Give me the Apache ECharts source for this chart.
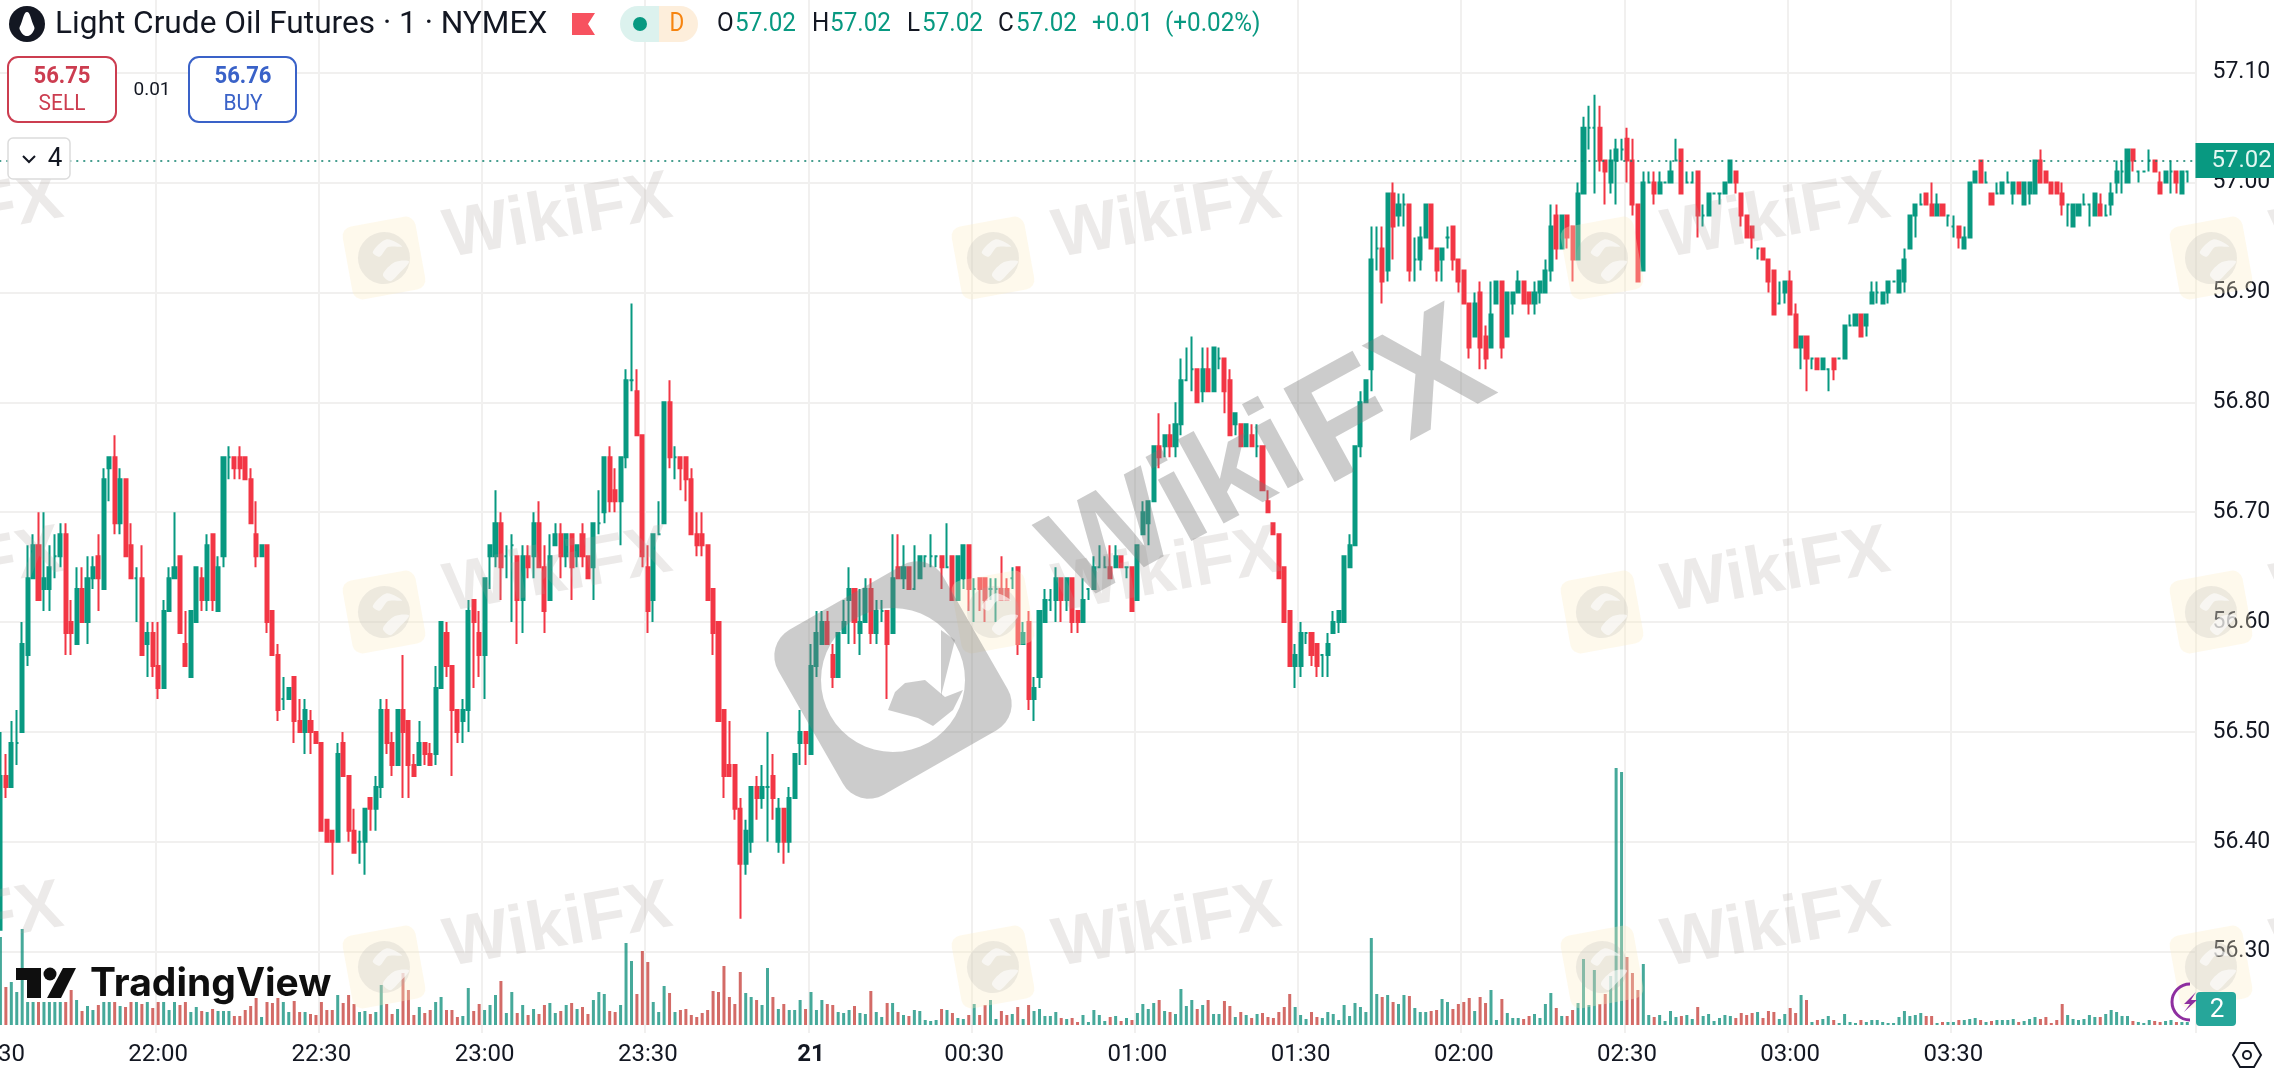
<!DOCTYPE html>
<html><head><meta charset="utf-8">
<style>html,body{margin:0;padding:0;background:#fff}#c{width:2274px;height:1080px}</style>
<script src="https://cdn.jsdelivr.net/npm/echarts@6/dist/echarts.min.js"></script>
</head><body><div id="c"></div>
<script>
const opens=[
56.30,56.32,56.46,56.45,56.49,56.50,56.57,56.64,56.67,56.63,
56.63,56.66,56.66,56.68,56.60,56.58,56.63,56.60,56.64,56.66,
56.63,56.74,56.75,56.69,56.73,56.67,56.64,56.64,56.58,56.59,
56.56,56.54,56.61,56.64,56.66,56.58,56.55,56.60,56.64,56.62,
56.68,56.61,56.66,56.75,56.75,56.75,56.75,56.73,56.68,56.66,
56.67,56.61,56.57,56.53,56.53,56.55,56.51,56.50,56.51,56.50,
56.49,56.42,56.41,56.40,56.49,56.46,56.41,56.40,56.40,56.44,
56.43,56.45,56.52,56.49,56.47,56.52,56.51,56.47,56.47,56.49,
56.48,56.48,56.54,56.59,56.56,56.52,56.51,56.52,56.62,56.59,
56.57,56.66,56.66,56.69,56.66,56.67,56.66,56.62,56.66,56.66,
56.69,56.65,56.62,56.67,56.68,56.66,56.68,56.66,56.68,56.66,
56.65,56.69,56.70,56.75,56.72,56.71,56.75,56.82,56.81,56.77,
56.65,56.62,56.68,56.69,56.80,56.75,56.75,56.75,56.73,56.68,
56.68,56.67,56.63,56.60,56.52,56.47,56.47,56.43,56.38,56.40,
56.45,56.44,56.45,56.46,56.40,56.43,56.40,56.44,56.49,56.50,
56.48,56.56,56.58,56.60,56.57,56.55,56.59,56.62,56.63,56.59,
56.60,56.63,56.59,56.61,56.61,56.59,56.65,56.64,56.65,56.63,
56.64,56.66,56.66,56.66,56.66,56.65,56.66,56.62,56.64,56.67,
56.63,56.64,56.64,56.63,56.63,56.63,56.63,56.64,56.65,56.58,
56.60,56.53,56.55,56.60,56.62,56.62,56.64,56.62,56.64,56.61,
56.60,56.63,56.63,56.65,56.65,56.65,56.65,56.66,56.65,56.65,
56.62,56.68,56.69,56.71,56.76,56.76,56.77,56.76,56.78,56.82,
56.83,56.83,56.81,56.83,56.81,56.84,56.84,56.82,56.78,56.78,
56.76,56.77,56.76,56.76,56.71,56.69,56.68,56.65,56.61,56.56,
56.56,56.59,56.59,56.58,56.57,56.57,56.59,56.60,56.60,56.65,
56.67,56.76,56.80,56.83,56.94,56.94,56.92,56.99,56.97,56.98,
56.98,56.93,56.93,56.95,56.98,56.94,56.93,56.95,56.96,56.93,
56.92,56.89,56.86,56.90,56.86,56.85,56.89,56.91,56.86,56.89,
56.90,56.91,56.90,56.89,56.90,56.90,56.92,56.97,56.94,56.97,
56.96,56.93,56.99,57.05,57.05,57.05,57.02,57.00,57.02,57.03,
57.04,57.02,56.98,56.92,57.00,57.00,56.99,57.00,57.00,57.02,
57.03,57.00,57.00,57.01,56.97,56.97,56.99,56.99,56.99,57.00,
57.01,56.99,56.97,56.96,56.94,56.94,56.93,56.92,56.89,56.90,
56.91,56.88,56.85,56.86,56.84,56.84,56.83,56.83,56.84,56.84,
56.84,56.87,56.87,56.88,56.87,56.89,56.90,56.89,56.90,56.91,
56.90,56.91,56.94,56.97,56.98,56.99,56.98,56.97,56.98,56.97,
56.96,56.96,56.94,56.95,57.00,57.02,57.00,56.99,56.99,56.99,
57.00,56.99,57.00,56.98,56.99,56.99,57.02,57.01,57.00,57.00,
56.99,56.98,56.96,56.97,56.98,56.98,56.97,56.98,56.97,56.98,
57.00,57.01,57.00,57.03,57.01,57.01,57.02,57.02,57.00,57.00,
57.01,57.01,56.99,57.01];
const closes=[
56.32,56.46,56.45,56.49,56.49,56.58,56.64,56.67,56.62,56.64,
56.65,56.66,56.68,56.59,56.59,56.63,56.60,56.64,56.65,56.64,
56.73,56.75,56.69,56.73,56.66,56.64,56.64,56.57,56.59,56.56,
56.54,56.61,56.64,56.65,56.59,56.56,56.61,56.65,56.62,56.67,
56.62,56.65,56.75,56.75,56.74,56.74,56.73,56.69,56.66,56.67,
56.60,56.57,56.52,56.53,56.54,56.51,56.50,56.52,56.50,56.49,
56.41,56.40,56.40,56.48,56.46,56.41,56.39,56.40,56.43,56.43,
56.45,56.52,56.49,56.47,56.52,56.50,56.47,56.46,56.49,56.48,
56.47,56.54,56.60,56.56,56.52,56.50,56.52,56.61,56.60,56.57,
56.64,56.67,56.69,56.65,56.66,56.67,56.62,56.66,56.65,56.69,
56.65,56.61,56.66,56.68,56.66,56.68,56.65,56.67,56.66,56.64,
56.69,56.69,56.75,56.71,56.71,56.75,56.82,56.82,56.77,56.66,
56.61,56.68,56.68,56.80,56.75,56.75,56.74,56.73,56.68,56.67,
56.67,56.62,56.59,56.51,56.46,56.46,56.43,56.38,56.41,56.45,
56.44,56.45,56.45,56.44,56.43,56.40,56.44,56.48,56.50,56.49,
56.56,56.59,56.60,56.58,56.55,56.59,56.60,56.63,56.60,56.60,
56.63,56.59,56.61,56.61,56.58,56.64,56.64,56.65,56.63,56.63,
56.66,56.66,56.66,56.66,56.65,56.65,56.62,56.66,56.67,56.63,
56.63,56.63,56.62,56.63,56.63,56.62,56.62,56.64,56.58,56.59,
56.53,56.54,56.61,56.62,56.62,56.64,56.62,56.64,56.60,56.60,
56.62,56.63,56.65,56.65,56.65,56.64,56.66,56.65,56.65,56.61,
56.67,56.70,56.71,56.76,56.75,56.77,56.76,56.78,56.82,56.82,
56.83,56.80,56.83,56.81,56.85,56.84,56.81,56.77,56.79,56.76,
56.78,56.76,56.76,56.72,56.70,56.68,56.64,56.60,56.56,56.57,
56.59,56.59,56.57,56.56,56.57,56.58,56.60,56.61,56.66,56.67,
56.76,56.80,56.82,56.93,56.94,56.91,56.99,56.96,56.98,56.98,
56.92,56.93,56.95,56.98,56.94,56.92,56.94,56.95,56.93,56.91,
56.89,56.85,56.89,56.85,56.84,56.88,56.91,56.85,56.90,56.90,
56.91,56.89,56.89,56.90,56.91,56.92,56.96,56.94,56.97,56.95,
56.93,56.99,57.05,57.05,57.05,57.02,57.01,57.02,57.03,57.03,
57.02,56.98,56.91,57.00,57.00,56.99,57.00,57.00,57.01,57.02,
56.99,57.00,57.00,56.97,56.97,56.99,56.99,56.99,57.00,57.02,
57.00,56.97,56.95,56.95,56.94,56.93,56.91,56.88,56.89,56.91,
56.88,56.85,56.86,56.84,56.84,56.83,56.84,56.83,56.83,56.84,
56.87,56.87,56.88,56.86,56.88,56.90,56.90,56.90,56.91,56.91,
56.92,56.93,56.97,56.98,56.98,56.98,56.97,56.98,56.97,56.97,
56.96,56.95,56.95,57.00,57.01,57.00,57.00,56.98,56.99,57.00,
57.00,57.00,56.99,57.00,57.00,57.02,57.00,57.00,56.99,56.99,
56.98,56.98,56.98,56.98,56.98,56.98,56.99,56.97,56.97,56.99,
57.01,57.01,57.03,57.02,57.01,57.01,57.02,57.01,56.99,57.01,
57.01,57.00,57.01,57.01];
const lows=[
56.30,56.32,56.44,56.45,56.47,56.50,56.56,56.64,56.62,56.61,
56.61,56.64,56.65,56.57,56.57,56.58,56.60,56.58,56.63,56.61,
56.63,56.71,56.68,56.68,56.66,56.64,56.60,56.57,56.55,56.55,
56.53,56.54,56.61,56.64,56.59,56.56,56.55,56.60,56.61,56.61,
56.61,56.61,56.65,56.73,56.73,56.73,56.73,56.69,56.65,56.66,
56.59,56.57,56.51,56.52,56.53,56.49,56.50,56.48,56.48,56.49,
56.41,56.40,56.37,56.40,56.46,56.40,56.39,56.38,56.37,56.41,
56.41,56.44,56.48,56.46,56.47,56.44,56.44,56.46,56.47,56.47,
56.47,56.47,56.54,56.55,56.46,56.49,56.49,56.50,56.54,56.55,
56.53,56.63,56.65,56.62,56.64,56.60,56.58,56.59,56.64,56.64,
56.65,56.59,56.62,56.67,56.64,56.65,56.62,56.65,56.65,56.64,
56.62,56.68,56.69,56.70,56.70,56.67,56.74,56.81,56.77,56.65,
56.59,56.60,56.68,56.69,56.74,56.73,56.72,56.71,56.68,56.66,
56.66,56.62,56.57,56.51,56.44,56.46,56.42,56.33,56.37,56.39,
56.42,56.43,56.40,56.42,56.39,56.38,56.39,56.44,56.47,56.47,
56.48,56.55,56.58,56.58,56.54,56.55,56.59,56.58,56.58,56.57,
56.60,56.58,56.58,56.60,56.53,56.59,56.64,56.63,56.63,56.63,
56.64,56.65,56.65,56.65,56.63,56.65,56.62,56.62,56.63,56.61,
56.60,56.61,56.60,56.62,56.60,56.62,56.62,56.63,56.57,56.58,
56.52,56.51,56.54,56.60,56.61,56.60,56.60,56.61,56.59,56.59,
56.60,56.62,56.63,56.65,56.65,56.64,56.65,56.65,56.64,56.61,
56.62,56.68,56.67,56.71,56.74,56.75,56.75,56.75,56.77,56.82,
56.81,56.80,56.80,56.81,56.81,56.83,56.79,56.77,56.77,56.76,
56.76,56.76,56.75,56.72,56.70,56.68,56.64,56.60,56.56,56.54,
56.55,56.58,56.56,56.55,56.55,56.55,56.59,56.59,56.60,56.65,
56.67,56.75,56.80,56.81,56.92,56.89,56.91,56.93,56.96,56.96,
56.91,56.91,56.92,56.95,56.94,56.91,56.91,56.94,56.92,56.90,
56.89,56.84,56.86,56.83,56.83,56.85,56.89,56.84,56.86,56.88,
56.90,56.89,56.88,56.88,56.89,56.90,56.91,56.93,56.94,56.94,
56.91,56.93,56.99,57.03,56.99,57.01,56.98,56.99,56.98,57.02,
57.00,56.97,56.91,56.92,57.00,56.98,56.99,57.00,57.00,57.02,
56.99,57.00,57.00,56.95,56.96,56.97,56.99,56.98,56.99,57.00,
56.99,56.96,56.95,56.94,56.93,56.93,56.90,56.88,56.89,56.89,
56.88,56.85,56.83,56.81,56.83,56.83,56.83,56.81,56.82,56.84,
56.84,56.87,56.87,56.86,56.86,56.89,56.89,56.89,56.89,56.91,
56.90,56.90,56.94,56.95,56.98,56.98,56.97,56.97,56.97,56.96,
56.95,56.94,56.94,56.95,57.00,57.00,57.00,56.98,56.99,56.99,
57.00,56.98,56.99,56.98,56.98,56.99,57.00,57.00,56.99,56.99,
56.97,56.96,56.96,56.97,56.98,56.96,56.97,56.97,56.97,56.97,
56.99,56.99,57.00,57.01,57.00,57.01,57.01,57.01,56.99,57.00,
56.99,56.99,56.99,57.00];
const highs=[
56.33,56.50,56.48,56.51,56.52,56.60,56.67,56.68,56.70,56.70,
56.67,56.68,56.69,56.69,56.62,56.65,56.65,56.66,56.66,56.68,
56.74,56.75,56.77,56.74,56.73,56.69,56.65,56.67,56.60,56.60,
56.60,56.62,56.65,56.70,56.66,56.61,56.61,56.65,56.65,56.68,
56.68,56.66,56.75,56.76,56.75,56.76,56.75,56.74,56.71,56.67,
56.67,56.61,56.58,56.55,56.54,56.55,56.53,56.53,56.52,56.50,
56.49,56.42,56.41,56.49,56.50,56.46,56.43,56.41,56.43,56.44,
56.46,56.53,56.53,56.50,56.52,56.57,56.51,56.48,56.51,56.49,
56.49,56.56,56.60,56.60,56.56,56.52,56.53,56.62,56.62,56.61,
56.64,56.67,56.72,56.70,56.67,56.68,56.66,56.67,56.67,56.70,
56.71,56.67,56.68,56.69,56.69,56.68,56.68,56.67,56.69,56.66,
56.69,56.72,56.75,56.76,56.74,56.75,56.83,56.89,56.83,56.77,
56.67,56.68,56.71,56.80,56.82,56.76,56.75,56.75,56.74,56.70,
56.70,56.67,56.63,56.60,56.52,56.51,56.47,56.44,56.42,56.45,
56.46,56.47,56.50,56.48,56.44,56.43,56.45,56.48,56.52,56.50,
56.58,56.61,56.61,56.61,56.58,56.59,56.62,56.65,56.63,56.63,
56.64,56.64,56.62,56.62,56.61,56.68,56.68,56.67,56.65,56.67,
56.66,56.66,56.68,56.66,56.66,56.69,56.66,56.66,56.67,56.67,
56.64,56.64,56.64,56.64,56.64,56.66,56.64,56.65,56.65,56.60,
56.61,56.55,56.61,56.63,56.63,56.65,56.64,56.64,56.64,56.61,
56.64,56.63,56.66,56.67,56.66,56.67,56.67,56.66,56.65,56.65,
56.67,56.71,56.71,56.76,56.79,56.77,56.78,56.80,56.84,56.85,
56.86,56.83,56.85,56.85,56.85,56.85,56.84,56.83,56.79,56.78,
56.78,56.78,56.78,56.76,56.72,56.69,56.68,56.65,56.61,56.58,
56.60,56.59,56.59,56.58,56.57,56.59,56.61,56.61,56.66,56.68,
56.76,56.81,56.82,56.96,56.96,56.96,56.99,57.00,56.99,56.99,
56.98,56.95,56.96,56.98,56.98,56.94,56.94,56.96,56.96,56.93,
56.92,56.89,56.90,56.91,56.87,56.91,56.91,56.91,56.90,56.90,
56.92,56.91,56.90,56.91,56.91,56.93,56.98,56.98,56.97,56.97,
56.96,57.00,57.06,57.07,57.08,57.07,57.02,57.03,57.04,57.04,
57.05,57.04,56.98,57.01,57.01,57.01,57.01,57.00,57.02,57.04,
57.03,57.01,57.01,57.01,56.98,56.99,56.99,56.99,57.00,57.02,
57.01,56.99,56.97,56.96,56.94,56.94,56.93,56.92,56.91,56.91,
56.92,56.89,56.86,56.86,56.84,56.84,56.84,56.83,56.84,56.84,
56.87,56.88,56.88,56.88,56.88,56.91,56.91,56.90,56.91,56.91,
56.92,56.94,56.97,56.98,56.99,56.99,57.00,56.99,56.98,56.97,
56.97,56.96,56.96,57.00,57.01,57.02,57.01,56.99,57.00,57.00,
57.01,57.00,57.00,57.00,57.00,57.02,57.03,57.01,57.00,57.00,
57.00,56.98,56.98,56.98,56.99,56.98,56.99,56.99,56.98,57.00,
57.02,57.02,57.03,57.03,57.01,57.01,57.03,57.02,57.01,57.01,
57.02,57.01,57.01,57.01];
const volumes=[
40,88,38,43,33,96,23,23,23,23,
23,23,23,23,35,25,14,19,15,20,
23,23,23,19,18,23,23,21,23,17,
23,23,15,23,20,23,13,18,14,13,
16,14,14,14,9,9,15,19,27,8,
23,22,27,23,13,24,13,13,11,10,
23,15,15,30,22,30,21,13,14,11,
13,40,21,11,16,52,35,10,18,12,
15,23,28,15,15,8,9,37,14,21,
15,20,30,44,12,33,12,20,10,16,
11,20,22,12,14,20,22,16,18,11,
25,33,31,14,13,20,82,64,31,74,
63,23,13,39,32,13,15,16,10,8,
12,15,34,33,59,28,21,53,32,28,
25,20,57,28,16,21,15,15,25,16,
33,15,25,21,20,13,12,15,19,12,
11,34,13,8,22,22,13,10,9,15,
14,5,4,5,16,15,12,7,6,10,
21,10,20,25,6,14,10,11,18,6,
20,14,16,9,9,13,7,6,7,3,
10,3,15,10,4,8,9,4,7,5,
12,21,16,22,25,14,13,11,36,19,
25,16,20,25,11,11,24,19,8,13,
10,7,11,12,8,7,13,18,31,18,
10,6,13,8,7,13,11,5,20,9,
22,18,13,87,31,28,30,23,21,30,
29,17,13,13,14,15,26,23,16,21,
23,27,14,28,22,35,5,26,12,7,
7,6,9,11,7,21,32,17,9,9,
15,22,66,20,55,21,31,49,257,253,
68,52,35,61,10,8,10,4,14,8,
9,10,6,18,9,11,4,7,10,9,
7,12,10,12,13,7,14,13,6,11,
17,12,30,25,3,5,6,9,5,2,
11,3,2,5,3,5,5,3,2,2,
8,14,9,10,12,9,9,2,3,3,
3,5,5,6,7,5,3,4,5,5,
5,6,3,4,6,8,6,8,2,5,
21,10,6,5,6,10,8,8,11,15,
13,9,9,4,3,2,5,4,3,4,
5,3,3,3];
const timeLabels=["21:30","22:00","22:30","23:00","23:30","21","00:30","01:00","01:30","02:00","02:30","03:00","03:30"];
const priceTicks={min:56.3,max:57.1,interval:0.1};
const lastPrice=57.02;
const volumeMax=265;
const headerTitle="Light Crude Oil Futures · 1 · NYMEX";

const UP='#089981',DOWN='#f23645',VUP='rgba(8,140,120,0.75)',VDOWN='rgba(200,70,65,0.8)',GRID='#f1f0ef';
const BAR_STEP=5.44,BANDS=405,LABEL_STEP=30;
const categories=[];
for(let i=0;i<BANDS;i++){const t=i%LABEL_STEP===0?timeLabels[i/LABEL_STEP]:undefined;categories.push(t||('m'+i));}
const isTick=i=>i%LABEL_STEP===0&&timeLabels[i/LABEL_STEP]!==undefined;
const candleData=opens.map((o,i)=>[o,closes[i],lows[i],highs[i]]);
const volumeData=volumes.map((v,i)=>({value:v,itemStyle:{color:closes[i]>=opens[i]?VUP:VDOWN}}));

const FF='Roboto, "Liberation Sans", sans-serif';
function T(text,x,y,o={}){return {type:'text',x,y,z:o.z||110,scaleX:o.sx||1,rotation:o.rot||0,
  style:{text,font:`${o.w||400} ${o.s||24}px ${o.f||FF}`,fill:o.c||'#131722',align:o.a||'left',verticalAlign:'middle',textAlign:o.a||'left',textVerticalAlign:'middle'}};}
function RR(x,y,w,h,r,fill,stroke,lw,z){return {type:'rect',z:z||105,shape:{x,y,width:w,height:h,r},style:{fill:fill||'none',stroke:stroke||'none',lineWidth:lw||0}};}
function arcPts(cx,cy,r,a0,a1,n){const p=[];for(let k=0;k<=n;k++){const a=a0+(a1-a0)*k/n;p.push([cx+r*Math.cos(a),cy+r*Math.sin(a)]);}return p;}
const PI=Math.PI;
function roundSquare(h,r){return [].concat(arcPts(h-r,-h+r,r,-PI/2,0,8),arcPts(h-r,h-r,r,0,PI/2,8),arcPts(-h+r,h-r,r,PI/2,PI,8),arcPts(-h+r,-h+r,r,PI,PI*1.5,8));}

const graphics=[];
const wmCols=[-225,384,993,1602,2211],wmRows=[258,612,967];
wmCols.forEach(cx=>wmRows.forEach(cy=>{
  graphics.push({type:'group',x:cx,y:cy,rotation:0.18,z:20,children:[
    {type:'rect',z:20,shape:{x:-37,y:-37,width:74,height:74,r:10},style:{fill:'rgba(252,236,195,0.32)'}},
    {type:'circle',z:21,shape:{cx:0,cy:0,r:26},style:{fill:'rgba(170,170,170,0.2)'}},
    {type:'polygon',z:22,shape:{smooth:0.3,points:[[-4,16],[10,6],[24,8],[12,18],[2,24]]},style:{fill:'rgba(255,255,255,0.6)'}},
    {type:'polygon',z:22,shape:{smooth:0.3,points:[[-10,-8],[6,-18],[20,-8],[6,-10],[-4,-2]]},style:{fill:'rgba(255,255,255,0.6)'}}
  ]});
  graphics.push({type:'text',x:cx+174,y:cy-40,rotation:0.18,z:20,style:{text:'WikiFX',font:'700 69px "Liberation Sans", sans-serif',fill:'rgba(170,160,155,0.22)',align:'center',verticalAlign:'middle',textAlign:'center',textVerticalAlign:'middle'}});
}));
const BIG='rgba(120,120,120,0.38)';
[['Wiki',1176,508,132],['FX',1392,402,155]].forEach(([t,x,y,s])=>graphics.push({type:'text',x,y,rotation:0.5,z:30,style:{text:t,font:`700 ${s}px "Liberation Sans", sans-serif`,fill:BIG,align:'center',verticalAlign:'middle',textAlign:'center',textVerticalAlign:'middle'}}));
const outer=roundSquare(95,30);
const inner=arcPts(0,0,72,-PI/2,-PI*2.5,48);
graphics.push({type:'polygon',x:893,y:680,rotation:0.52,z:30,shape:{points:[...outer,outer[0],[0,-72],...inner,[0,-72]]},style:{fill:BIG}});
graphics.push({type:'polygon',x:893,y:680,z:30,shape:{points:[[-5,30],[2,12],[12,3],[32,0],[52,17],[70,10],[60,30],[40,46],[25,38]]},style:{fill:BIG}});
graphics.push({type:'polygon',x:893,y:680,z:30,shape:{points:[[48,-50],[62,-40],[48,16]]},style:{fill:BIG}});

graphics.push({type:'circle',z:110,shape:{cx:27,cy:24,r:18},style:{fill:'#131722'}});
graphics.push({type:'polygon',z:111,shape:{smooth:0.5,points:[[27,12],[33,24],[34,30],[27,36],[20,30],[21,24]]},style:{fill:'#fff'}});
graphics.push(T(headerTitle,55,25,{s:31,sx:1.02}));
graphics.push({type:'polygon',z:110,shape:{points:[[572,13],[595,13],[588,24],[595,35],[572,35]]},style:{fill:'#f7525f'}});
graphics.push({type:'polygon',z:104,shape:{points:[[659,6],...arcPts(638,24,18,-PI/2,-PI*1.5,16),[659,42]]},style:{fill:'#dcf2ee'}});
graphics.push({type:'polygon',z:104,shape:{points:[[659,6],...arcPts(680,24,18,-PI/2,PI/2,16),[659,42]]},style:{fill:'#fdeedb'}});
graphics.push({type:'circle',z:110,shape:{cx:640,cy:24,r:7},style:{fill:UP}});
graphics.push(T('D',677,25,{s:25,c:'#f68410',a:'center',sx:0.9}));
[['O',717,'#131722'],['57.02',735,UP],['H',812,'#131722'],['57.02',830,UP],['L',907,'#131722'],['57.02',922,UP],['C',998,'#131722'],['57.02',1016,UP],['+0.01',1092,UP],['(+0.02%)',1165,UP]]
 .forEach(([t,x,c])=>graphics.push(T(t,x,25,{s:25,c,sx:0.97})));
graphics.push(RR(8,57,108,65,10,'#fff','#cc3d50',2));
graphics.push(T('56.75',62,77,{s:24,w:700,c:'#cc3d50',a:'center',sx:0.92}));
graphics.push(T('SELL',62,104,{s:22,c:'#cc3d50',a:'center',sx:0.95}));
graphics.push(T('0.01',152,90,{s:19,a:'center'}));
graphics.push(RR(189,57,107,65,10,'#fff','#3a62c8',2));
graphics.push(T('56.76',243,77,{s:24,w:700,c:'#3a62c8',a:'center',sx:0.92}));
graphics.push(T('BUY',243,104,{s:22,c:'#3a62c8',a:'center',sx:0.95}));
graphics.push(RR(8,138,62,41,5,'#fff','#dcdcdc',1.5));
graphics.push({type:'polyline',z:110,shape:{points:[[23,156],[29,162],[35,156]]},style:{stroke:'#131722',lineWidth:2,fill:'none'}});
graphics.push(T('4',55,159,{s:26,a:'center'}));
graphics.push({type:'polygon',z:110,shape:{points:[[16,968],[41,968],[41,998],[27,998],[27,980],[16,980]]},style:{fill:'#0f0f0f'}});
graphics.push({type:'circle',z:110,shape:{cx:50,cy:974,r:6.5},style:{fill:'#0f0f0f'}});
graphics.push({type:'polygon',z:110,shape:{points:[[63,968],[76,968],[61,998],[47,998]]},style:{fill:'#0f0f0f'}});
graphics.push(T('TradingView',90,984,{s:39,w:700,c:'#0f0f0f',f:'Inter, sans-serif',sx:1.0}));
graphics.push({type:'arc',z:110,shape:{cx:2190,cy:1002,r:18,startAngle:PI*0.5,endAngle:PI*1.5},style:{stroke:'#8e2fa0',lineWidth:3,fill:'none'}});
graphics.push({type:'polygon',z:110,shape:{points:[[2196,992],[2184,1004],[2190,1004],[2184,1012],[2197,1000],[2191,1000]]},style:{fill:'#8e2fa0'}});
graphics.push(RR(2196,992,40,34,4,'#26a69a'));
graphics.push(T('2',2217,1010,{s:26,c:'#fff',a:'center'}));
graphics.push({type:'polygon',z:110,shape:{points:[[2233,1055],[2240,1043],[2254,1043],[2261,1055],[2254,1067],[2240,1067]]},style:{stroke:'#131722',lineWidth:2,fill:'none'}});
graphics.push({type:'circle',z:110,shape:{cx:2247,cy:1055,r:4},style:{stroke:'#131722',lineWidth:2,fill:'none'}});

const gridLeft=-BAR_STEP*1.42,gridW=BANDS*BAR_STEP;
const xBase={type:'category',data:categories,boundaryGap:true,axisLine:{show:false},axisTick:{show:false},axisLabel:{show:false},splitLine:{show:false}};
const gridBase={left:gridLeft,width:gridW,outerBoundsMode:'none',containLabel:false};
const chart=echarts.init(document.getElementById('c'),null,{renderer:'canvas'});
chart.setOption({
  animation:false,backgroundColor:'#fff',
  grid:[
    {...gridBase,top:0,height:1033},
    {...gridBase,top:72.7,height:879},
    {...gridBase,top:760,height:265}
  ],
  xAxis:[
    {...xBase,gridIndex:0,splitLine:{show:true,interval:(i)=>isTick(i),lineStyle:{color:GRID,width:2}}},
    {...xBase,gridIndex:1},
    {...xBase,gridIndex:2,axisLabel:{show:true,interval:(i)=>isTick(i),margin:18,hideOverlap:false,showMinLabel:true,fontFamily:'Roboto',fontSize:24,color:'#131722',
      formatter:(v)=>v==='21'?'{b|21}':v,rich:{b:{fontFamily:'Roboto',fontSize:24,fontWeight:700,color:'#131722'}}}}
  ],
  yAxis:[
    {type:'value',gridIndex:0,min:0,max:1,show:false},
    {type:'value',gridIndex:1,position:'right',min:priceTicks.min,max:priceTicks.max,interval:priceTicks.interval,
     axisLine:{show:false},axisTick:{show:false},
     splitLine:{show:true,lineStyle:{color:GRID,width:2}},
     axisLabel:{margin:17,padding:[7,0,0,0],fontFamily:'Roboto',fontSize:23,color:'#131722',formatter:v=>v.toFixed(2)}},
    {type:'value',gridIndex:2,min:0,max:volumeMax,show:false}
  ],
  series:[
    {type:'bar',xAxisIndex:2,yAxisIndex:2,data:volumeData,barWidth:3,silent:true,z:2},
    {type:'candlestick',xAxisIndex:1,yAxisIndex:1,data:candleData,barWidth:3.6,silent:true,clip:false,z:3,
     itemStyle:{color:UP,color0:DOWN,borderColor:UP,borderColor0:DOWN,borderColorDoji:UP,borderWidth:2},
     markLine:{silent:true,symbol:'none',z:60,animation:false,
       lineStyle:{color:'#0b7f6b',type:[2,5],width:1.5},
       label:{show:true,position:'end',distance:0,formatter:lastPrice.toFixed(2),fontFamily:'Roboto',fontSize:24,color:'#e3f7f2',backgroundColor:UP,padding:[7,4,4,16],align:'left'},
       data:[{yAxis:lastPrice}]}}
  ],
  graphic:{elements:graphics}
});
</script></body></html>
